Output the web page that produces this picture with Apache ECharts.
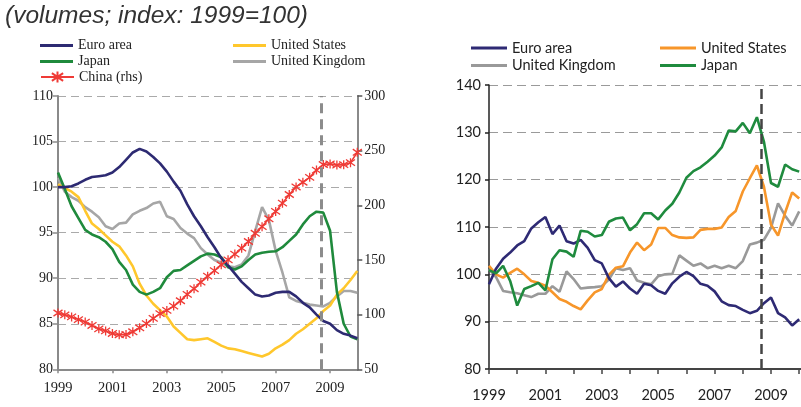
<!DOCTYPE html>
<html><head><meta charset="utf-8">
<script src="https://cdn.jsdelivr.net/npm/echarts@6/dist/echarts.min.js"></script>
<style>html,body{margin:0;padding:0;background:#fff}#c{width:801px;height:407px}</style>
</head><body><div id="c"></div>
<script>
// quarterly categories 1999Q1 .. 2010Q1
const quarters = [];
for (let y = 1999; y <= 2010; y++) for (let q = 1; q <= 4; q++) { if (y === 2010 && q > 1) break; quarters.push(y + 'Q' + q); }
const qPos = s => +s.slice(0, 4) + (+s.slice(5) - 1) / 4;

const titleText = '(volumes; index: 1999=100)';
const crisisLine = 2008.66;
const leftYearLabels = [1999, 2001, 2003, 2005, 2007, 2009];
const rightYearTicks = [1999, 2000, 2001, 2002, 2003, 2004, 2005, 2006, 2007, 2008, 2009, 2010];

// Left panel (index, lhs) and China (rhs)
const euroLeft = [100,100,100.1,100.4,100.8,101.1,101.2,101.3,101.6,102.2,103.0,103.8,104.2,103.9,103.3,102.6,101.7,100.6,99.6,98.1,96.8,95.7,94.5,93.4,92.2,91.4,90.5,89.6,88.9,88.2,88.0,88.1,88.4,88.5,88.5,88.0,87.3,86.8,86.0,85.3,85.0,84.3,83.9,83.7,83.4];
const usLeft = [100.3,99.9,99.5,98.9,97.4,96.0,95.4,94.7,94.0,93.5,92.5,91.3,89.4,88.1,87.2,86.5,85.8,84.7,84.0,83.3,83.2,83.3,83.4,83.0,82.6,82.3,82.2,82.0,81.8,81.6,81.4,81.7,82.3,82.7,83.2,83.9,84.4,85.0,85.6,86.4,87.0,88.2,88.9,89.8,90.8];
const japanLeft = [101.6,99.8,97.9,96.6,95.3,94.8,94.5,94.0,93.2,91.8,90.9,89.3,88.5,88.2,88.5,88.9,90.1,90.8,90.9,91.4,91.9,92.4,92.7,92.6,92.3,91.2,90.95,91.3,92.0,92.6,92.8,92.9,92.95,93.4,94.1,94.8,95.9,96.8,97.3,97.2,95.2,88.5,85.0,83.6,83.3];
const ukLeft = [101.0,99.5,98.9,98.5,97.8,97.3,96.7,95.7,95.4,96.0,96.1,97.0,97.4,97.7,98.2,98.4,96.8,96.5,95.5,94.9,94.4,93.3,92.6,92.0,91.7,91.3,91.2,91.5,92.5,95.2,97.8,96.4,93.0,90.6,87.9,87.5,87.3,87.1,87.0,86.9,87.3,88.0,88.6,88.6,88.4];
const chinaLeft = [101.5,99.8,97.9,95.5,93.2,90.1,87.0,85.1,82.8,81.5,81.8,84.3,88.0,91.8,96.6,100.9,103.9,107.8,112.7,118.5,123.7,129.7,135.2,140.3,145.6,150.1,155.4,160.8,166.9,174.4,180.5,187.7,194.4,202.0,209.9,216.8,221.1,225.6,232.2,237.3,237.9,236.8,237.2,239.0,248.5];

// Right panel
const euroRight = [97.9,101.2,103.3,104.6,106.1,107.0,109.7,111.0,112.1,108.5,110.3,107.0,106.5,107.3,105.6,103.0,102.3,99.2,97.4,98.5,97.0,95.9,98.0,97.7,96.5,95.9,98.1,99.5,100.5,99.6,98.0,97.6,96.4,94.3,93.5,93.3,92.5,91.8,92.3,93.9,95.1,91.8,90.9,89.2,90.5];
const usRight = [101.8,100.0,99.3,100.3,101.2,100.0,98.6,98.2,97.6,96.2,94.8,94.2,93.3,92.6,94.5,96.2,96.9,99.9,101.4,101.7,104.6,106.7,105.1,106.3,109.8,109.8,108.3,107.8,107.7,107.8,109.4,109.6,109.6,109.9,112.1,113.4,117.5,120.3,123.0,118.5,110.5,108.2,113.0,117.3,116.0];
const ukRight = [101.1,99.4,96.5,96.2,96.0,95.6,95.2,95.9,95.9,97.5,96.3,100.6,99.0,97.0,97.2,97.3,97.5,98.9,101.3,100.9,101.3,98.7,98.2,97.9,99.6,100.0,100.1,104.0,102.9,101.8,102.3,101.3,101.8,101.3,101.8,101.3,102.8,106.3,106.7,107.3,109.8,115.0,112.4,110.3,113.3];
const japanRight = [100.9,100.2,101.8,98.6,93.4,96.9,97.5,98.2,96.6,103.2,105.1,104.8,103.7,109.2,109.0,108.0,108.3,111.1,111.8,112.0,109.3,110.6,112.9,112.9,111.6,113.5,114.9,117.3,120.4,121.8,122.6,123.8,125.1,126.8,130.4,130.2,132.0,129.8,133.2,128.0,119.3,118.5,123.2,122.2,121.7];

const pairs = arr => quarters.map((q, i) => [qPos(q), arr[i]]);

const SERIF = '"Liberation Serif", "DejaVu Serif", serif';
const SANS = 'Lato, "Noto Sans", sans-serif';
const star = 'path://M5,0L5,10M1.5,1.5L8.5,8.5M1.5,8.5L8.5,1.5';
// thin horizontal bar icon inside a 14px-high box (degenerate sub-paths fix the bounding box)
const barIcon = w => `path://M0,0L0.01,0M0,5.6L${w},5.6L${w},8.4L0,8.4ZM0,14L0.01,14`;

function lineSeries(name, data, color, xi, yi, extra) {
  return Object.assign({
    type: 'line', name, data: pairs(data), xAxisIndex: xi, yAxisIndex: yi,
    symbol: 'none', smooth: false, animation: false,
    lineStyle: { color, width: 2.6 }, itemStyle: { color }
  }, extra || {});
}

// [name, left, row centre y]
const leftLegendItems = [['Euro area', 40, 45.5], ['United States', 233, 45.5], ['Japan', 40, 61.5], ['United Kingdom', 233, 61.5]];
const rightLegendItems = [['r:Euro area', 471, 47.5], ['r:United States', 660, 47.5], ['r:United Kingdom', 471, 65], ['r:Japan', 660, 65]];

const legends = [];
leftLegendItems.forEach(([n, l, c]) => legends.push({
  data: [n], left: l, top: c - 7, padding: 0, itemWidth: 33, itemHeight: 14, icon: barIcon(33), selectedMode: false,
  textStyle: { fontFamily: SERIF, fontSize: 14, color: '#222', lineHeight: 14 }
}));
legends.push({
  data: ['China (rhs)'], left: 40, top: 70, padding: 0, itemWidth: 33, itemHeight: 14, selectedMode: false,
  textStyle: { fontFamily: SERIF, fontSize: 14, color: '#222', lineHeight: 14 }
});
rightLegendItems.forEach(([n, l, c]) => legends.push({
  data: [n], left: l, top: c - 7, padding: 0, itemWidth: 36, itemHeight: 14, icon: barIcon(36), selectedMode: false,
  formatter: s => s.replace(/^r:/, ''),
  textStyle: { fontFamily: SANS, fontSize: 14.5, color: '#222', lineHeight: 14 }
}));

const chart = echarts.init(document.getElementById('c'), null, { renderer: 'canvas' });
chart.setOption({
  animation: false,
  backgroundColor: '#fff',
  graphic: [{ type: 'text', left: 5, top: 4, style: { text: titleText, font: 'italic 24.5px "Liberation Sans", Arial, sans-serif', fill: '#333' } }],
  legend: legends,
  grid: [
    { left: 58, right: 443.7, top: 96, bottom: 37.7 },
    { left: 489, right: 0, top: 85, bottom: 38 }
  ],
  xAxis: [
    { gridIndex: 0, type: 'value', min: 1999, max: 2010,
      axisLine: { lineStyle: { color: '#8a8a8a', width: 2 } },
      axisTick: { customValues: leftYearLabels, length: 4, lineStyle: { color: '#8a8a8a', width: 1.5 } },
      axisLabel: { customValues: leftYearLabels, formatter: v => String(v), fontFamily: SERIF, fontSize: 14.5, color: '#222', margin: 11 },
      splitLine: { show: false } },
    { gridIndex: 1, type: 'value', min: 1999, max: 2010.064,
      axisLine: { lineStyle: { color: '#444', width: 2 } },
      axisTick: { customValues: rightYearTicks, length: 5, lineStyle: { color: '#444', width: 1.5 } },
      axisLabel: { customValues: leftYearLabels, formatter: v => String(v), fontFamily: SANS, fontSize: 14.5, color: '#222', margin: 19 },
      splitLine: { show: false } }
  ],
  yAxis: [
    { gridIndex: 0, type: 'value', min: 80, max: 110, interval: 5, position: 'left',
      axisLine: { show: true, lineStyle: { color: '#8a8a8a', width: 2 } },
      axisTick: { show: true, length: 5, lineStyle: { color: '#8a8a8a', width: 1.5 } },
      axisLabel: { fontFamily: SERIF, fontSize: 14, color: '#222', margin: 5 },
      splitLine: { show: true, lineStyle: { color: '#aaaaaa', width: 1, type: [8, 5] } } },
    { gridIndex: 0, type: 'value', min: 50, max: 300, interval: 50, position: 'right',
      axisLine: { show: true, lineStyle: { color: '#8a8a8a', width: 2 } },
      axisTick: { show: true, length: 5, lineStyle: { color: '#555', width: 1.5 } },
      axisLabel: { fontFamily: SERIF, fontSize: 14, color: '#222', margin: 7 },
      splitLine: { show: false } },
    { gridIndex: 1, type: 'value', min: 80, max: 140, interval: 10, position: 'left',
      axisLine: { show: true, lineStyle: { color: '#222', width: 1.5 } },
      axisTick: { show: true, length: 4, lineStyle: { color: '#222', width: 1.5 } },
      axisLabel: { fontFamily: SANS, fontSize: 14.5, color: '#222', margin: 8 },
      splitLine: { show: true, lineStyle: { color: '#9a9a9a', width: 1, type: [9, 5] } } }
  ],
  series: [
    lineSeries('United Kingdom', ukLeft, '#a6a6a6', 0, 0),
    lineSeries('United States', usLeft, '#FFC72C', 0, 0),
    lineSeries('Japan', japanLeft, '#1f8a3c', 0, 0),
    lineSeries('Euro area', euroLeft, '#2d2a72', 0, 0, {
      markLine: { silent: true, symbol: 'none', label: { show: false },
        lineStyle: { color: '#8c8c8c', width: 3, type: [10, 6] }, data: [{ xAxis: crisisLine }] }
    }),
    lineSeries('China (rhs)', chinaLeft, '#EF3B36', 0, 1, {
      symbol: star, symbolSize: 9, showSymbol: true, showAllSymbol: true,
      lineStyle: { color: '#EF3B36', width: 1.6 },
      itemStyle: { color: '#EF3B36', borderColor: '#EF3B36', borderWidth: 1.3 }
    }),
    lineSeries('r:United Kingdom', ukRight, '#999999', 1, 2),
    lineSeries('r:United States', usRight, '#F7962A', 1, 2),
    lineSeries('r:Euro area', euroRight, '#2e2a74', 1, 2, {
      markLine: { silent: true, symbol: 'none', label: { show: false },
        lineStyle: { color: '#444', width: 2.5, type: [10, 5] }, data: [{ xAxis: crisisLine }] }
    }),
    lineSeries('r:Japan', japanRight, '#1f8b3e', 1, 2)
  ]
});
</script></body></html>
